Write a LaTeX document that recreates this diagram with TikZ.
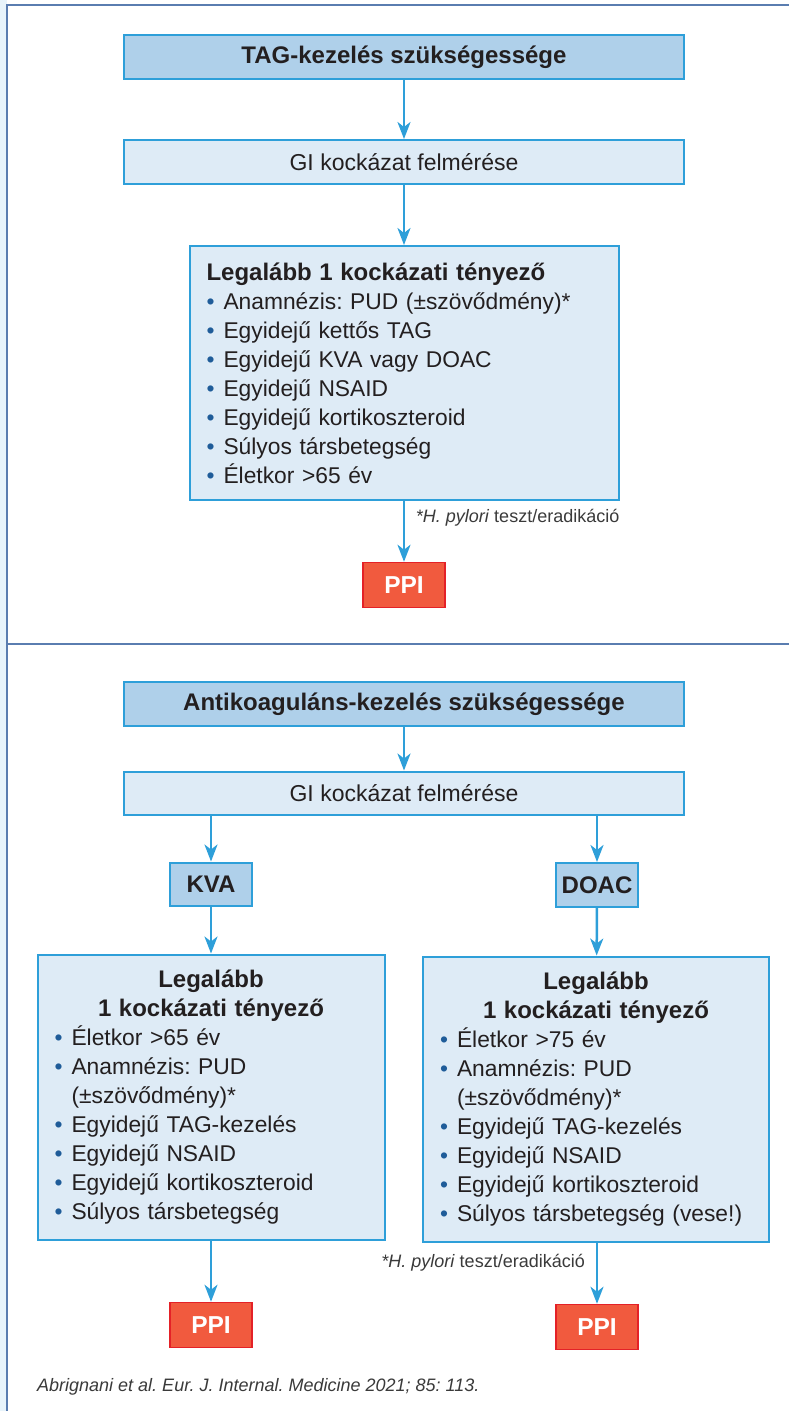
\documentclass[tikz,border=0pt]{standalone}
\usepackage{fontspec}
\setmainfont{Liberation Sans}
\usetikzlibrary{arrows.meta,positioning}
\definecolor{hdrblue}{HTML}{AFD0EA}
\definecolor{boxblue}{HTML}{DEEBF6}
\definecolor{lineblue}{HTML}{2E9FD9}
\definecolor{framecol}{HTML}{5A7DB0}
\definecolor{stripcol}{HTML}{E8F4FB}
\definecolor{bulletblue}{HTML}{1F5C99}
\definecolor{ppired}{HTML}{F15A3E}
\definecolor{ppiborder}{HTML}{E42127}
\definecolor{textcol}{HTML}{231F20}
\definecolor{notegray}{HTML}{3A3A3A}
\frenchspacing
\newcommand{\itm}{\makebox[17pt][l]{\textcolor{bulletblue}{•}}}
\newcommand{\riskhead}[1]{{\centering\bfseries\fontsize{24}{29}\selectfont #1\par}}
\begin{document}
\begin{tikzpicture}[x=1pt,y=-1pt,
    hdr/.style={rectangle, draw=lineblue, line width=2pt, fill=hdrblue, text=textcol, minimum width=560pt, minimum height=44pt, font=\fontsize{24}{28}\selectfont\bfseries},
    gibox/.style={rectangle, draw=lineblue, line width=2pt, fill=boxblue, text=textcol, minimum width=560pt, minimum height=44pt, font=\fontsize{23}{28}\selectfont},
    drugbox/.style={hdr, minimum width=82pt},
    riskbox/.style={rectangle, draw=lineblue, line width=2pt, fill=boxblue, text=textcol, align=left, inner xsep=17pt, font=\fontsize{22.8}{29}\selectfont},
    ppibox/.style={rectangle, draw=ppiborder, line width=1.5pt, fill=ppired, text=white, minimum width=82pt, minimum height=45pt, font=\fontsize{24.5}{28}\selectfont\bfseries},
    note/.style={inner sep=0pt, text=notegray, font=\fontsize{18}{21}\selectfont},
    arr/.style={draw=lineblue, line width=2.5pt, -{Stealth[length=17pt,width=13pt,inset=5pt]}}]
    \fill[white] (0,0) rectangle (789,1411);
    \fill[stripcol] (0,0) rectangle (7,1411);
    \useasboundingbox (0,0) rectangle (789,1411);
    \draw[framecol, line width=1.5pt] (789,5) -- (7,5) -- (7,1411);
    \draw[framecol, line width=1.5pt] (7,644) -- (789,644);

    \node(tag) [hdr] at (404,57) {TAG-kezelés szükségessége};
    \node(gi1) [gibox] at (404,162) {GI kockázat felmérése};
    \node(risk1) [riskbox, text width=395pt, minimum height=254pt] at (404,373) {
        \bfseries\fontsize{24}{29}\selectfont Legalább 1 kockázati tényező\\
        \mdseries\fontsize{22.8}{29}\selectfont
        \itm Anamnézis: PUD (±szövődmény)*\\
        \itm Egyidejű kettős TAG\\
        \itm Egyidejű KVA vagy DOAC\\
        \itm Egyidejű NSAID\\
        \itm Egyidejű kortikoszteroid\\
        \itm Súlyos társbetegség\\
        \itm Életkor >65 év
    };
    \node(note1) [note, anchor=north east] at ([yshift=-8pt]risk1.south east) {\textit{*H. pylori} teszt/eradikáció};
    \node(ppi1) [ppibox] at (404,585) {PPI};
    \draw[arr] (tag) -- (gi1);
    \draw[arr] (gi1) -- (risk1);
    \draw[arr] (risk1) -- (ppi1);

    \node(ak) [hdr] at (404,704) {Antikoaguláns-kezelés szükségessége};
    \node(gi2) [gibox, minimum height=43pt] at (404,793) {GI kockázat felmérése};
    \node(kva) [drugbox, minimum height=43pt] at (211,884) {KVA};
    \node(doac) [drugbox] at (597,885) {DOAC};
    \node(riskk) [riskbox, text width=313pt, minimum height=285pt] at (211,1097) {
        \riskhead{Legalább\\1 kockázati tényező}
        \itm Életkor >65 év\\
        \itm Anamnézis: PUD\\
        \hspace*{17pt}(±szövődmény)*\\
        \itm Egyidejű TAG-kezelés\\
        \itm Egyidejű NSAID\\
        \itm Egyidejű kortikoszteroid\\
        \itm Súlyos társbetegség
    };
    \node(riskd) [riskbox, text width=312pt, minimum height=285pt] at (596,1099) {
        \riskhead{Legalább\\1 kockázati tényező}
        \itm Életkor >75 év\\
        \itm Anamnézis: PUD\\
        \hspace*{17pt}(±szövődmény)*\\
        \itm Egyidejű TAG-kezelés\\
        \itm Egyidejű NSAID\\
        \itm Egyidejű kortikoszteroid\\
        \itm Súlyos társbetegség (vese!)
    };
    \node(ppik) [ppibox] at (211,1325) {PPI};
    \node(ppid) [ppibox] at (597,1327) {PPI};
    \node(note2) [note, anchor=east] at (585,1263) {\textit{*H. pylori} teszt/eradikáció};
    \draw[arr] (ak) -- (gi2);
    \draw[arr] (gi2.south -| kva) -- (kva);
    \draw[arr] (gi2.south -| doac) -- (doac);
    \draw[arr] (kva) -- (riskk);
    \draw[arr] (doac) -- (riskd);
    \draw[arr] (riskk.south -| ppik) -- (ppik);
    \draw[arr] (riskd.south -| ppid) -- (ppid);

    \node(cite) [note, anchor=west, font=\fontsize{18}{21}\selectfont\itshape] at (37,1387) {Abrignani et al. Eur. J. Internal. Medicine 2021; 85: 113.};
\end{tikzpicture}
\end{document}
